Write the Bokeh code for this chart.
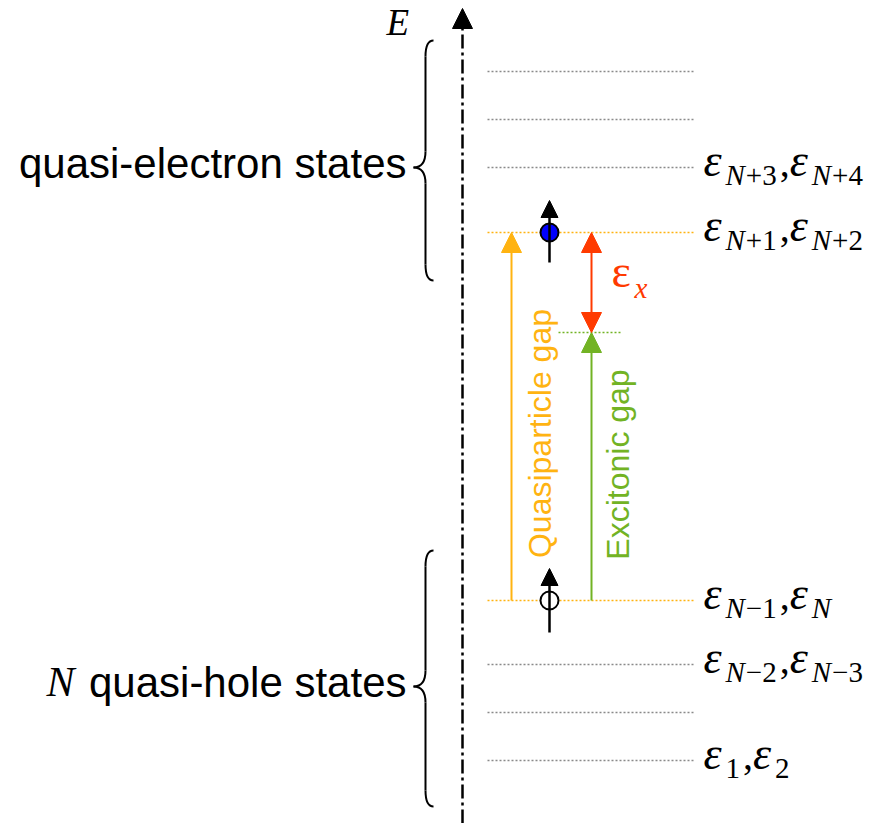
import numpy as np
from bokeh.plotting import figure
from bokeh.models import Range1d, Arrow, NormalHead
from bokeh.core.properties import value
from bokeh.embed import file_html
from bokeh.resources import INLINE

# ---------------- data (energy coordinate, increasing upward) ----------------
level_E = [752, 704, 656, 591, 223, 159, 111, 63]
level_kind = ["grey", "grey", "grey", "gap", "gap", "grey", "grey", "grey"]
level_x = [487, 693]
exciton_E = 491
exciton_x = [558, 622]
lumo_E = 591
homo_E = 223
label_E = [656, 591, 223, 159, 63]
label_sub_a = ["N+3", "N+1", "N\u22121", "N\u22122", "1"]
label_sub_b = ["N+4", "N+2", "N", "N\u22123", "2"]
group_names = ["quasi-electron states", "quasi-hole states"]
group_top = [783, 273]
group_bottom = [543, 17]
group_mid = [656, 137]
gap_names = ["Quasiparticle gap", "Excitonic gap"]

ORANGE = "#FFB311"
GREEN = "#72B324"
RED = "#FF3A00"
GREYDOT = "#8a8a8a"

W, H = 871, 823
p = figure(width=W, height=H, x_range=Range1d(0, W), y_range=Range1d(0, H),
           output_backend="svg", toolbar_location=None, min_border=0,
           x_axis_type=None, y_axis_type=None)
p.grid.visible = False
p.outline_line_color = None
p.background_fill_color = "white"
p.border_fill_color = "white"

SERIF = value("Liberation Serif")
SANS = value("Liberation Sans")


def bl(fs):
    # baseline correction for the renderer
    return 0.36 * fs


# ---------------- energy levels ----------------
for e, k in zip(level_E, level_kind):
    col = ORANGE if k == "gap" else GREYDOT
    p.line(level_x, [e, e], line_color=col, line_width=1.3, line_dash="2 2")
p.line(exciton_x, [exciton_E, exciton_E], line_color=GREEN, line_width=1.5, line_dash="2 2")

# ---------------- energy axis ----------------
AX = 462
p.add_layout(Arrow(x_start=AX, y_start=0, x_end=AX, y_end=815,
                   line_color="black", line_width=2.5, line_dash="14 4 3 4",
                   end=NormalHead(size=20, fill_color="black", line_color="black", line_width=1)))
p.text(x=[386], y=[788 + bl(37)], text=["E"], text_font=SERIF, text_font_style="italic",
       text_font_size="37px", text_baseline="alphabetic", text_align="left", text_color="black")

# ---------------- braces ----------------
def brace(x, top, bot, mid, d_end=8, d_mid=12, r=16):
    kw = dict(line_color="black", line_width=2)
    p.quadratic(x0=[x + d_end], y0=[top], x1=[x], y1=[top - r], cx=[x], cy=[top], **kw)
    p.segment(x0=[x], y0=[top - r], x1=[x], y1=[mid + r], **kw)
    p.quadratic(x0=[x], y0=[mid + r], x1=[x - d_mid], y1=[mid], cx=[x], cy=[mid], **kw)
    p.quadratic(x0=[x - d_mid], y0=[mid], x1=[x], y1=[mid - r], cx=[x], cy=[mid], **kw)
    p.segment(x0=[x], y0=[mid - r], x1=[x], y1=[bot + r], **kw)
    p.quadratic(x0=[x], y0=[bot + r], x1=[x + d_end], y1=[bot], cx=[x], cy=[bot], **kw)

for t, b, m in zip(group_top, group_bottom, group_mid):
    brace(425, t, b, m)

p.text(x=[406], y=[group_mid[0] - 11 + bl(42)], text=[group_names[0]], text_font=SANS,
       text_font_size="42px", text_baseline="alphabetic", text_align="right", text_color="black")
p.text(x=[406], y=[group_mid[1] - 11 + bl(42)], text=[group_names[1]], text_font=SANS,
       text_font_size="42px", text_baseline="alphabetic", text_align="right", text_color="black")
p.text(x=[46], y=[group_mid[1] - 11 + bl(42)], text=["N"], text_font=SERIF, text_font_style="italic",
       text_font_size="42px", text_baseline="alphabetic", text_align="left", text_color="black")

# ---------------- gap arrows ----------------
p.add_layout(Arrow(x_start=511, y_start=homo_E, x_end=511, y_end=lumo_E,
                   line_color=ORANGE, line_width=2,
                   end=NormalHead(size=20, fill_color=ORANGE, line_color=ORANGE)))
p.add_layout(Arrow(x_start=591, y_start=homo_E, x_end=591, y_end=exciton_E,
                   line_color=GREEN, line_width=2,
                   end=NormalHead(size=20, fill_color=GREEN, line_color=GREEN)))
p.add_layout(Arrow(x_start=591, y_start=exciton_E, x_end=591, y_end=lumo_E,
                   line_color=RED, line_width=2,
                   start=NormalHead(size=20, fill_color=RED, line_color=RED),
                   end=NormalHead(size=20, fill_color=RED, line_color=RED)))

p.text(x=[551 - bl(32)], y=[(homo_E + lumo_E) / 2 - 17], text=[gap_names[0]], angle=np.pi / 2,
       text_font=SANS, text_font_size="32px", text_baseline="alphabetic",
       text_align="center", text_color=ORANGE)
p.text(x=[629 - bl(32)], y=[(homo_E + exciton_E) / 2 + 2], text=[gap_names[1]], angle=np.pi / 2,
       text_font=SANS, text_font_size="32px", text_baseline="alphabetic",
       text_align="center", text_color=GREEN)

# exciton binding energy label
p.text(x=[611], y=[535 + bl(46)], text=["\u03b5"], text_font=SERIF, text_font_size="46px",
       text_baseline="alphabetic", text_align="left", text_color=RED)
p.text(x=[634], y=[525 + bl(29)], text=["x"], text_font=SERIF, text_font_style="italic",
       text_font_size="29px", text_baseline="alphabetic", text_align="left", text_color=RED)

# ---------------- electron / hole with spins ----------------
p.add_layout(Arrow(x_start=549, y_start=lumo_E - 30, x_end=549, y_end=lumo_E + 32,
                   line_color="black", line_width=2.5,
                   end=NormalHead(size=17, fill_color="black", line_color="black")))
p.add_layout(Arrow(x_start=549, y_start=homo_E - 32, x_end=549, y_end=homo_E + 32,
                   line_color="black", line_width=2.5,
                   end=NormalHead(size=17, fill_color="black", line_color="black")))
p.scatter(x=[549], y=[lumo_E], size=18, fill_color="#0000FF", line_color="black", line_width=2)
p.scatter(x=[549], y=[homo_E], size=18, fill_color="white", line_color="black", line_width=2)

# ---------------- level labels ----------------
EPS_FS = 46
SUB_FS = 29
EPS_W = 22
ADV = {"N": 0.667, "+": 0.564, "\u2212": 0.564, "1": 0.5, "2": 0.5, "3": 0.5, "4": 0.5}


def draw_eps(x, base):
    p.text(x=[x], y=[base + bl(EPS_FS)], text=["\u03b5"], text_font=SERIF, text_font_style="italic",
           text_font_size=f"{EPS_FS}px", text_baseline="alphabetic", text_align="left",
           text_color="black")
    return x + EPS_W


def draw_sub(x, base, s):
    yb = base + bl(SUB_FS)
    if s.startswith("N"):
        p.text(x=[x], y=[yb], text=["N"], text_font=SERIF, text_font_style="italic",
               text_font_size=f"{SUB_FS}px", text_baseline="alphabetic", text_align="left",
               text_color="black")
        x += ADV["N"] * SUB_FS + 1
        s = s[1:]
    if s:
        p.text(x=[x], y=[yb], text=[s], text_font=SERIF,
               text_font_size=f"{SUB_FS}px", text_baseline="alphabetic", text_align="left",
               text_color="black")
        x += sum(ADV[c] for c in s) * SUB_FS
    return x


for e, a, b in zip(label_E, label_sub_a, label_sub_b):
    x = draw_eps(703, e - 10)
    x = draw_sub(x, e - 18, a)
    p.text(x=[x + 3], y=[e - 10 + bl(40)], text=[","], text_font=SERIF, text_font_size="40px",
           text_baseline="alphabetic", text_align="left", text_color="black")
    x = draw_eps(x + 13, e - 10)
    draw_sub(x, e - 18, b)

open("out.html", "w").write(file_html(p, INLINE))
